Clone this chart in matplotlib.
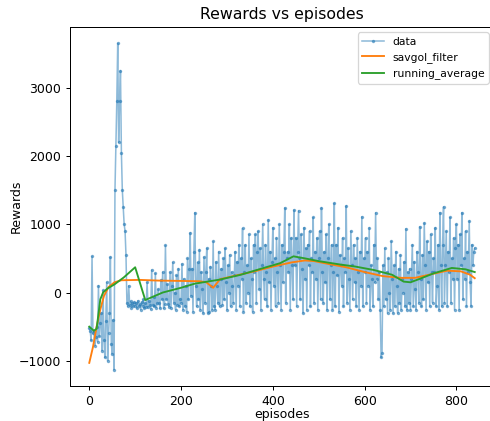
import matplotlib
matplotlib.use('Agg')
import matplotlib.pyplot as plt
import numpy as np

# rewards, one value every 2 episodes
episodes = np.arange(0, 841, 2)
rewards = [
    # 0 - 48
    -520, -560, -700, 530, -600, -560, -780, -650, -500, -720,
    100, -640, -450, -300, -850, 30, -700, -950, -420, 150,
    -1000, -600, -300, 520, -750,
    # 50 - 98
    -900, -400, -1130, 1500, 2150, 2800, 3650, 2200, 2800, 3250,
    2050, 1500, 1250, 1000, 900, 550, -150, -200, 100, -180,
    -130, -220, -160, -200, -140,
    # 100 - 148
    -190, -150, -230, -120, -200, -170, -250, -140, -190, -100,
    -230, -160, -210, 150, -210, -120, -180, -240, 330, -180,
    -60, -200, 280, -220, -150,
    # 150 - 198
    50, -150, -230, 180, -100, 300, -230, -170, 690, -100,
    120, -170, -210, 300, -220, 100, 440, -150, 0, -250,
    250, -180, 350, -200, -100,
    # 200 - 248
    -150, 420, -250, 200, -200, 100, -280, 500, -100, 350,
    875, -50, 350, -280, 600, 1170, 100, -200, 440, -100,
    630, -250, 300, 50, -300,
    # 250 - 298
    520, -150, 300, 650, -300, 200, -280, 380, 100, -250,
    750, -200, -250, 450, 100, -150, 600, -200, 200, 350,
    -180, 500, -100, 650, 150,
    # 300 - 348
    -250, 400, 0, 550, -200, 300, 100, -150, 250, 600,
    -250, 450, 100, 700, -200, 500, 200, 940, -280, 300,
    700, -150, 400, 0, 850,
    # 350 - 398
    -200, 500, 200, -280, 700, 300, 850, -150, 600, 900,
    50, 650, -250, 400, 1000, 200, -100, 700, 300, -200,
    1065, 150, 600, -250, 450,
    # 400 - 448
    950, 100, 500, -200, 800, 300, -150, 1000, 400, -250,
    700, 150, 600, 1240, -150, 500, 600, 300, 1000, -250,
    800, 400, -100, 1210, 400,
    # 450 - 498
    800, -200, 600, 1200, 500, -100, 850, 350, -300, 950,
    200, 650, -250, 700, 400, 900, -200, 500, 300, 1100,
    -150, 600, 200, 800, -250,
    # 500 - 548
    500, 900, -100, 1240, 300, -150, 600, 150, 850, -250,
    500, 1000, -100, 400, 700, -250, 300, 1310, -200, 700,
    250, 950, -280, 550, 400,
    # 550 - 598
    100, 800, -200, 500, 300, 1270, -150, 650, 200, -250,
    900, 400, -100, 700, 150, 500, -200, 800, 300, -250,
    600, 100, 1110, -200, 500,
    # 600 - 648
    300, 800, -150, 600, 100, 950, -250, 400, 200, -200,
    700, 150, 1170, 200, 500, -100, 300, -250, -950, -880,
    400, -200, 650, -100, 300,
    # 650 - 698
    -300, 500, 0, -250, 750, 200, -300, 400, -200, 600,
    100, -300, 350, -150, 550, -250, 200, 0, 450, -200,
    935, -250, 300, -150, 350,
    # 700 - 748
    -250, 200, 700, -200, 450, 50, -250, 600, 300, -150,
    965, 200, -200, 550, -100, 1020, 400, -250, 750, 150,
    600, -200, 850, 300, -150,
    # 750 - 798
    500, 300, 950, -200, 100, 700, -250, 1170, 400, -200,
    700, 1255, -150, 400, 900, -200, 600, 300, 1100, -150,
    500, 200, 800, -250, 650,
    # 800 - 840
    1000, 200, 700, -250, 850, 400, 1170, -100, 500, 200,
    900, -200, 600, 300, 1050, 150, -200, 700, 400, 600,
    650,
]

savgol_ep = [0, 8, 16, 24, 32, 42, 55, 70, 110, 150, 200, 240, 255, 270, 285,
             320, 360, 400, 440, 470, 490, 520, 560, 600, 640, 680, 710, 740,
             780, 810, 830, 840]
savgol = [-1030, -800, -500, -250, -50, 80, 150, 180, 185, 175, 170, 165, 150,
          70, 195, 250, 310, 380, 440, 470, 460, 420, 370, 300, 240, 215, 215,
          260, 320, 310, 260, 210]

running_ep = [0, 10, 16, 24, 30, 40, 55, 75, 100, 122, 160, 200, 230, 285,
              330, 380, 416, 445, 470, 500, 547, 580, 620, 660, 685, 700, 720,
              750, 790, 820, 840]
running = [-500, -560, -530, -100, 0, 60, 120, 220, 370, -110, 0, 70, 130,
           190, 260, 360, 430, 530, 500, 460, 410, 380, 330, 260, 160, 150,
           200, 280, 360, 340, 300]

fig = plt.figure(figsize=(490 / 90, 421 / 90), dpi=90)
ax = fig.add_axes([70 / 490, 35 / 421, 424 / 490, 359 / 421])

ax.plot(episodes, rewards, color='tab:blue', lw=1.25, alpha=0.5,
        marker='.', markersize=3.5, label='data')
ax.plot(savgol_ep, savgol, color='tab:orange', lw=1.5, label='savgol_filter')
ax.plot(running_ep, running, color='tab:green', lw=1.5, label='running_average')

ax.set_xlabel('episodes', labelpad=0)
ax.set_ylabel('Rewards')
ax.yaxis.set_label_coords(-0.112, 0.5)
ax.set_title('Rewards vs episodes', fontsize=12.6)
ax.legend(loc='upper right', fontsize=8.6)

fig.savefig('out.png', dpi=90)
